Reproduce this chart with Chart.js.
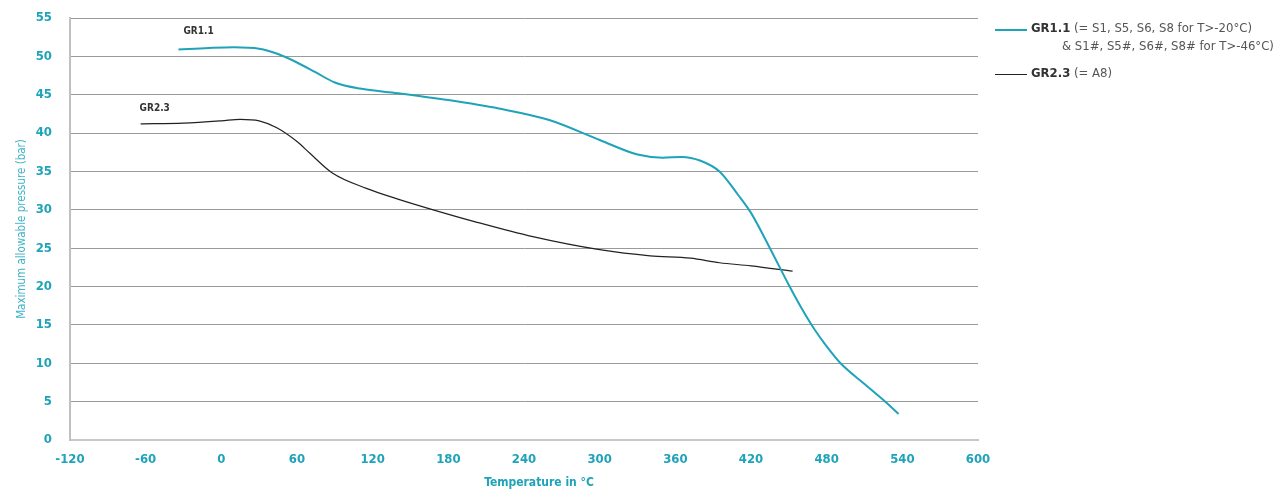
<!DOCTYPE html>
<html>
<head>
<meta charset="utf-8">
<script src="https://cdn.jsdelivr.net/npm/chart.js@4.4.1/dist/chart.umd.min.js"></script>
<style>
  html, body { margin: 0; padding: 0; background: #fff; }
  body { width: 1278px; height: 491px; position: relative; overflow: hidden;
         font-family: 'Liberation Sans Narrow', 'DejaVu Sans Condensed', 'Roboto', sans-serif; }
  #wrap { position: absolute; left: 0; top: 0; width: 1278px; height: 491px; }
  .lbl { position: absolute; font-weight: bold; font-size: 10px; color: #333; white-space: nowrap; line-height: 12px; }
  #legend { position: absolute; left: 995px; top: 19px; font-size: 13px; color: #555; line-height: 18px; }
  .row { position: relative; white-space: nowrap; }
  .swatch { position: absolute; left: 0; width: 32px; top: 10px; }
  .txt { margin-left: 36px; }
  .txt b { color: #333; }
  #xtitle { position: absolute; top: 475px; left: 0; width: 1078px; text-align: center;
            font-weight: bold; font-size: 12px; color: #1ea3b9; }
</style>
</head>
<body>
<div id="wrap"><canvas id="c" width="1278" height="491"></canvas></div>
<div id="lab1" class="lbl">GR1.1</div>
<div id="lab2" class="lbl">GR2.3</div>
<div id="xtitle">Temperature in °C</div>
<div id="legend">
  <div class="row"><div class="swatch" style="border-top:2px solid #1ea3b9"></div>
    <div class="txt"><b>GR1.1</b> (= S1, S5, S6, S8 for T&gt;-20°C)</div></div>
  <div class="row"><div class="txt" style="margin-left:67px">&amp; S1#, S5#, S6#, S8# for T&gt;-46°C)</div></div>
  <div class="row" style="margin-top:9px"><div class="swatch" style="border-top:1.3px solid #222"></div>
    <div class="txt"><b>GR2.3</b> (= A8)</div></div>
</div>
<script>
// ---- data ----
const gr11Temp = [-34, -10, 10, 30, 45, 60, 75, 90, 110, 140, 180, 220, 260, 300, 330, 350, 365, 380, 395, 410, 420, 435, 450, 460, 470, 480, 491, 510, 525, 537];
const gr11Pres = [50.9, 51.1, 51.2, 51.0, 50.3, 49.2, 47.9, 46.6, 45.8, 45.2, 44.3, 43.2, 41.7, 39.1, 37.2, 36.8, 36.9, 36.4, 35.0, 31.9, 29.6, 25.0, 20.2, 17.2, 14.5, 12.2, 10.0, 7.3, 5.2, 3.4];
const gr23Temp = [-64, -30, 0, 15, 30, 44, 60, 70, 88, 115, 140, 168, 200, 247, 300, 340, 372, 395, 420, 453];
const gr23Pres = [41.2, 41.3, 41.6, 41.8, 41.6, 40.7, 38.9, 37.4, 34.8, 32.8, 31.4, 30.0, 28.5, 26.5, 24.8, 24.0, 23.7, 23.1, 22.7, 22.0];
const xTicks = [-120, -60, 0, 60, 120, 180, 240, 300, 360, 420, 480, 540, 600];
const yTicks = [0, 5, 10, 15, 20, 25, 30, 35, 40, 45, 50, 55];
const seriesNames = ['GR1.1', 'GR2.3'];

const TEAL = '#1ea3b9';
const FONT = "'Liberation Sans Narrow', 'DejaVu Sans Condensed', 'Roboto', sans-serif";

const toPts = (xs, ys) => xs.map((x, i) => ({ x: x, y: ys[i] }));

const labelPlugin = {
  id: 'curveLabels',
  afterRender(chart) {
    const xs = chart.scales.x, ys = chart.scales.y;
    const l1 = document.getElementById('lab1');
    const l2 = document.getElementById('lab2');
    l1.style.left = (xs.getPixelForValue(gr11Temp[0]) + 5) + 'px';
    l1.style.top = (ys.getPixelForValue(gr11Pres[0]) - 24) + 'px';
    l2.style.left = (xs.getPixelForValue(gr23Temp[0]) - 1) + 'px';
    l2.style.top = (ys.getPixelForValue(gr23Pres[0]) - 22) + 'px';
  }
};

new Chart(document.getElementById('c'), {
  type: 'scatter',
  data: {
    datasets: [
      { label: seriesNames[0], data: toPts(gr11Temp, gr11Pres), showLine: true, borderColor: TEAL,
        borderWidth: 2, pointRadius: 0, cubicInterpolationMode: 'monotone', fill: false },
      { label: seriesNames[1], data: toPts(gr23Temp, gr23Pres), showLine: true, borderColor: '#222',
        borderWidth: 1.2, pointRadius: 0, cubicInterpolationMode: 'monotone', fill: false }
    ]
  },
  options: {
    responsive: false,
    animation: false,
    devicePixelRatio: 1,
    layout: { padding: { top: 18, right: 300, left: 0, bottom: 0 } },
    plugins: { legend: { display: false }, tooltip: { enabled: false } },
    scales: {
      x: {
        type: 'linear', min: -120, max: 600,
        afterFit: s => { s.height = 51; s.paddingLeft = 0; s.paddingRight = 0; },
        afterBuildTicks: s => { s.ticks = xTicks.map(v => ({ value: v })); },
        grid: { display: false, drawTicks: false },
        border: { display: true, color: '#c8c8c8', width: 2 },
        ticks: { color: TEAL, font: { family: FONT, size: 13, weight: 'bold' }, padding: 12, maxRotation: 0, autoSkip: false }
      },
      y: {
        type: 'linear', min: 0, max: 55,
        afterFit: s => { s.width = 70; s.paddingTop = 0; s.paddingBottom = 0; },
        afterBuildTicks: s => { s.ticks = yTicks.map(v => ({ value: v })); },
        grid: { color: ctx => ctx.tick && ctx.tick.value === 0 ? 'rgba(0,0,0,0)' : '#9a9a9a', lineWidth: 1, drawTicks: false },
        border: { display: true, color: '#c0c0c0', width: 2 },
        ticks: { color: TEAL, font: { family: FONT, size: 13, weight: 'bold' }, padding: 18, autoSkip: false },
        title: { display: true, text: 'Maximum allowable pressure (bar)', color: '#3fb3c6',
                 font: { family: FONT, size: 11.5, weight: 'normal' }, padding: { top: 15, bottom: 0 } }
      }
    }
  },
  plugins: [labelPlugin]
});
</script>
</body>
</html>
